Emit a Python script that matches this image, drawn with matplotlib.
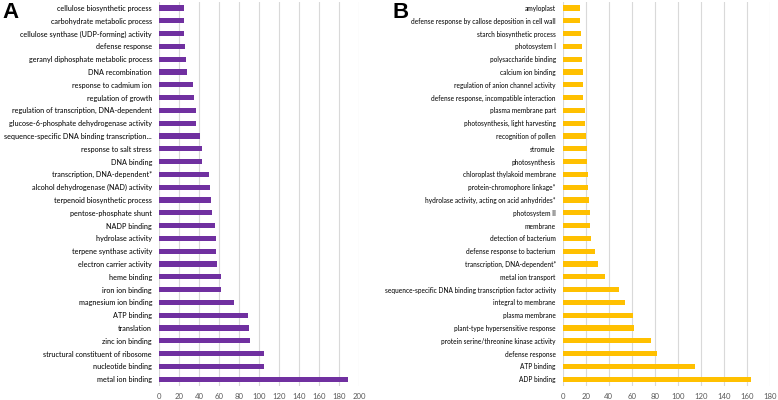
import matplotlib.pyplot as plt

plt.rcParams['font.family'] = ['Lato', 'DejaVu Sans']

# Panel A, listed top to bottom
terms_a = [
    'cellulose biosynthetic process',
    'carbohydrate metabolic process',
    'cellulose synthase (UDP-forming) activity',
    'defense response',
    'geranyl diphosphate metabolic process',
    'DNA recombination',
    'response to cadmium ion',
    'regulation of growth',
    'regulation of transcription, DNA-dependent',
    'glucose-6-phosphate dehydrogenase activity',
    'sequence-specific DNA binding transcription...',
    'response to salt stress',
    'DNA binding',
    'transcription, DNA-dependent*',
    'alcohol dehydrogenase (NAD) activity',
    'terpenoid biosynthetic process',
    'pentose-phosphate shunt',
    'NADP binding',
    'hydrolase activity',
    'terpene synthase activity',
    'electron carrier activity',
    'heme binding',
    'iron ion binding',
    'magnesium ion binding',
    'ATP binding',
    'translation',
    'zinc ion binding',
    'structural constituent of ribosome',
    'nucleotide binding',
    'metal ion binding',
]
counts_a = [25, 25, 25, 26, 27, 28, 34, 35, 37, 37, 41, 43, 43, 50, 51,
            52, 53, 56, 57, 57, 58, 62, 62, 75, 89, 90, 91, 105, 105, 189]

# Panel B, listed top to bottom
terms_b = [
    'amyloplast',
    'defense response by callose deposition in cell wall',
    'starch biosynthetic process',
    'photosystem I',
    'polysaccharide binding',
    'calcium ion binding',
    'regulation of anion channel activity',
    'defense response, incompatible interaction',
    'plasma membrane part',
    'photosynthesis, light harvesting',
    'recognition of pollen',
    'stromule',
    'photosynthesis',
    'chloroplast thylakoid membrane',
    'protein-chromophore linkage*',
    'hydrolase activity, acting on acid anhydrides*',
    'photosystem II',
    'membrane',
    'detection of bacterium',
    'defense response to bacterium',
    'transcription, DNA-dependent*',
    'metal ion transport',
    'sequence-specific DNA binding transcription factor activity',
    'integral to membrane',
    'plasma membrane',
    'plant-type hypersensitive response',
    'protein serine/threonine kinase activity',
    'defense response',
    'ATP binding',
    'ADP binding',
]
counts_b = [15, 15, 16, 17, 17, 18, 18, 18, 19, 19, 20, 21, 21, 22, 22,
            23, 24, 24, 25, 28, 31, 37, 49, 54, 61, 62, 77, 82, 115, 164]

ticks_a = list(range(0, 201, 20))
ticks_b = list(range(0, 181, 20))


def draw_panel(ax, terms, counts, color, ticks, letter, letter_x, label_size):
    y = list(range(len(terms)))
    ax.barh(y, counts, height=0.42, color=color, zorder=3)
    ax.set_ylim(len(terms) - 0.5, -0.5)
    ax.set_yticks(y)
    ax.set_yticklabels(terms, fontsize=label_size, color='#111111',
                       fontweight='medium')
    ax.set_xlim(ticks[0], ticks[-1])
    ax.set_xticks(ticks)
    ax.set_xticklabels([str(t) for t in ticks], fontsize=5.6, color='#595959')
    ax.tick_params(axis='both', length=0)
    ax.tick_params(axis='y', pad=5)
    ax.tick_params(axis='x', pad=5)
    ax.grid(axis='x', color='#d9d9d9', linewidth=0.8, zorder=0)
    for s in ax.spines.values():
        s.set_visible(False)
    ax.figure.text(letter_x, 0.995, letter, fontsize=16, fontweight='bold',
                   ha='left', va='top', family='Liberation Sans')


fig = plt.figure(figsize=(7.78, 4), dpi=100)
ax_a = fig.add_axes([159 / 778, 0.036, 200 / 778, 0.96])
ax_b = fig.add_axes([562.7 / 778, 0.036, 207 / 778, 0.96])

draw_panel(ax_a, terms_a, counts_a, '#7030A0', ticks_a, 'A', 2 / 778, 5.2)
draw_panel(ax_b, terms_b, counts_b, '#FFC000', ticks_b, 'B', 392 / 778, 4.7)

fig.savefig('out.png', dpi=100)
